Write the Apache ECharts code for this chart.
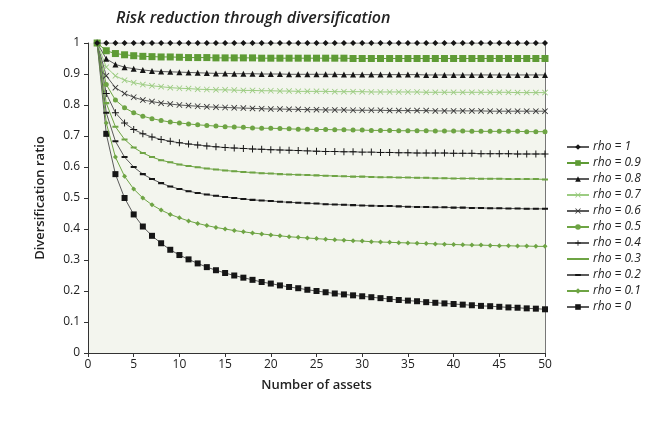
<!DOCTYPE html>
<html><head><meta charset="utf-8">
<script src="https://cdn.jsdelivr.net/npm/echarts@6/dist/echarts.min.js"></script>
<style>html,body{margin:0;padding:0;background:#fff}#c{width:656px;height:423px}</style>
</head><body><div id="c"></div>
<script>
var assets = [1,2,3,4,5,6,7,8,9,10,11,12,13,14,15,16,17,18,19,20,21,22,23,24,25,26,27,28,29,30,31,32,33,34,35,36,37,38,39,40,41,42,43,44,45,46,47,48,49,50];
var rho10 = [1,1,1,1,1,1,1,1,1,1,1,1,1,1,1,1,1,1,1,1,1,1,1,1,1,1,1,1,1,1,1,1,1,1,1,1,1,1,1,1,1,1,1,1,1,1,1,1,1,1];
var rho09 = [1,.975,.966,.962,.959,.957,.956,.955,.955,.954,.953,.953,.953,.952,.952,.952,.952,.952,.951,.951,.951,.951,.951,.951,.951,.951,.951,.951,.950,.950,.950,.950,.950,.950,.950,.950,.950,.950,.950,.950,.950,.950,.950,.950,.950,.950,.950,.950,.950,.950];
var rho08 = [1,.949,.931,.922,.917,.913,.910,.908,.907,.906,.905,.904,.903,.902,.902,.901,.901,.901,.900,.900,.900,.899,.899,.899,.899,.899,.899,.898,.898,.898,.898,.898,.898,.898,.898,.898,.897,.897,.897,.897,.897,.897,.897,.897,.897,.897,.897,.897,.897,.897];
var rho07 = [1,.922,.894,.880,.872,.866,.862,.859,.856,.854,.853,.851,.850,.849,.849,.848,.847,.847,.846,.846,.845,.845,.844,.844,.844,.844,.843,.843,.843,.843,.842,.842,.842,.842,.842,.842,.841,.841,.841,.841,.841,.841,.841,.841,.841,.841,.840,.840,.840,.840];
var rho06 = [1,.894,.856,.837,.825,.816,.811,.806,.803,.800,.798,.796,.794,.793,.792,.791,.790,.789,.788,.787,.787,.786,.786,.785,.785,.784,.784,.784,.783,.783,.783,.783,.782,.782,.782,.782,.782,.781,.781,.781,.781,.781,.781,.780,.780,.780,.780,.780,.780,.780];
var rho05 = [1,.866,.816,.791,.775,.764,.756,.750,.745,.742,.739,.736,.734,.732,.730,.729,.728,.726,.725,.725,.724,.723,.722,.722,.721,.721,.720,.720,.719,.719,.718,.718,.718,.717,.717,.717,.717,.716,.716,.716,.716,.715,.715,.715,.715,.715,.715,.714,.714,.714];
var rho04 = [1,.837,.775,.742,.721,.707,.697,.689,.683,.678,.674,.671,.668,.665,.663,.661,.660,.658,.657,.656,.655,.654,.653,.652,.651,.650,.650,.649,.649,.648,.648,.647,.647,.646,.646,.645,.645,.645,.645,.644,.644,.644,.643,.643,.643,.643,.642,.642,.642,.642];
var rho03 = [1,.806,.730,.689,.663,.645,.632,.622,.615,.608,.603,.599,.595,.592,.589,.586,.584,.582,.580,.579,.577,.576,.575,.574,.573,.572,.571,.570,.569,.569,.568,.567,.567,.566,.566,.565,.565,.564,.564,.563,.563,.563,.562,.562,.562,.561,.561,.561,.561,.560];
var rho02 = [1,.775,.683,.632,.600,.577,.561,.548,.537,.529,.522,.516,.511,.507,.503,.500,.497,.494,.492,.490,.488,.486,.485,.483,.482,.480,.479,.478,.477,.476,.475,.474,.474,.473,.472,.471,.471,.470,.470,.469,.469,.468,.468,.467,.467,.466,.466,.465,.465,.465];
var rho01 = [1,.742,.632,.570,.529,.500,.478,.461,.447,.436,.426,.418,.411,.405,.400,.395,.391,.387,.384,.381,.378,.375,.373,.371,.369,.367,.365,.364,.362,.361,.359,.358,.357,.356,.355,.354,.353,.352,.351,.350,.349,.348,.348,.347,.346,.346,.345,.345,.344,.344];
var rho00 = [1,.707,.577,.500,.447,.408,.378,.354,.333,.316,.302,.289,.277,.267,.258,.250,.243,.236,.229,.224,.218,.213,.209,.204,.200,.196,.192,.189,.186,.183,.180,.177,.174,.171,.169,.167,.164,.162,.160,.158,.156,.154,.152,.151,.149,.147,.146,.144,.143,.141];
var seriesNames = ['rho = 1','rho = 0.9','rho = 0.8','rho = 0.7','rho = 0.6','rho = 0.5','rho = 0.4','rho = 0.3','rho = 0.2','rho = 0.1','rho = 0'];
var xTicks = [0,5,10,15,20,25,30,35,40,45,50];
var yTicks = [0,0.1,0.2,0.3,0.4,0.5,0.6,0.7,0.8,0.9,1];

var allValues = [rho10,rho09,rho08,rho07,rho06,rho05,rho04,rho03,rho02,rho01,rho00];
var BLACK = '#161616', BLINE = '#5a5a5a', GREEN = '#5e9b35', LGREEN = '#9ccc82', MGREEN = '#6ea444';
var XPATH = 'path://M1,0L5,4L9,0L10,1L6,5L10,9L9,10L5,6L1,10L0,9L4,5L0,1Z';
var PPATH = 'path://M4.3,0H5.7V4.3H10V5.7H5.7V10H4.3V5.7H0V4.3H4.3Z';
var DASH = 'path://M5,0L5.01,0L5,0.01ZM5,10L5.01,10L5,9.99ZM0,3.3H10V6.7H0Z';
var styles = [
  {sym:'diamond', size:6, mc:BLACK, lc:BLINE},
  {sym:'rect', size:7, mc:GREEN, lc:GREEN},
  {sym:'triangle', size:6, mc:BLACK, lc:BLINE},
  {sym:XPATH, size:6, mc:LGREEN, lc:LGREEN},
  {sym:XPATH, size:6, mc:'#333', lc:BLINE},
  {sym:'circle', size:5, mc:MGREEN, lc:MGREEN},
  {sym:PPATH, size:7, mc:BLACK, lc:BLINE},
  {sym:DASH, size:6, mc:MGREEN, lc:MGREEN},
  {sym:DASH, size:6, mc:BLACK, lc:BLINE},
  {sym:'diamond', size:5, mc:MGREEN, lc:MGREEN},
  {sym:'rect', size:6, mc:BLACK, lc:BLINE}
];
var series = allValues.map(function(vals, i){
  var s = styles[i];
  return {
    name: seriesNames[i], type:'line', data: assets.map(function(a,j){return [a, vals[j]];}),
    symbol: s.sym, symbolSize: s.size, showAllSymbol:true, smooth:false,
    lineStyle:{color:s.lc, width:1}, itemStyle:{color:s.mc, borderWidth:0},
    emphasis:{disabled:true}, animation:false, z: 20-i
  };
});
series.push({type:'line', yAxisIndex:1, data:[], silent:true});

var chart = echarts.init(document.getElementById('c'), null, {renderer:'canvas'});
chart.setOption({
  backgroundColor:'#fff',
  animation:false,
  title:{text:'Risk reduction through diversification', left:111, top:5,
    textStyle:{fontFamily:'Open Sans', fontStyle:'italic', fontWeight:600, fontSize:16, color:'#222'}},
  grid:{left:88, right:111, top:43, bottom:70, show:true, backgroundColor:'#f3f5ee', borderWidth:0},
  legend:{orient:'vertical', left:561, top:136, itemGap:4, itemWidth:22, itemHeight:7,
    data: seriesNames,
    textStyle:{fontFamily:'Open Sans', fontStyle:'italic', fontSize:12, color:'#222', padding:[0,0,0,-1]}},
  xAxis:{type:'value', min:0, max:50, interval:5,
    name:'Number of assets', nameLocation:'middle', nameGap:26,
    nameTextStyle:{fontFamily:'Open Sans', fontWeight:600, fontSize:13, color:'#222'},
    axisLine:{show:true, lineStyle:{color:'#333', width:1}},
    axisTick:{show:true, length:4, lineStyle:{color:'#333'}},
    axisLabel:{fontFamily:'Open Sans', fontSize:12, color:'#222', margin:6,
      formatter:function(v){return xTicks.indexOf(v)>=0 ? String(v) : '';}},
    splitLine:{show:false}},
  yAxis:[{type:'value', min:0, max:1, interval:0.1,
    name:'Diversification ratio', nameLocation:'middle', nameGap:41,
    nameTextStyle:{fontFamily:'Open Sans', fontWeight:600, fontSize:13, color:'#222'},
    axisLine:{show:true, lineStyle:{color:'#333', width:1}},
    axisTick:{show:true, length:4, lineStyle:{color:'#333'}},
    axisLabel:{fontFamily:'Open Sans', fontSize:12, color:'#222', margin:8,
      formatter:function(v){var r=Math.round(v*10)/10; return yTicks.indexOf(r)>=0 ? String(r) : '';}},
    splitLine:{show:false}},
   {type:'value', min:0, max:1, position:'right',
    axisLine:{show:true, lineStyle:{color:'#777', width:1}}, axisTick:{show:false}, axisLabel:{show:false}, splitLine:{show:false}}],
  series: series
});
</script></body></html>
